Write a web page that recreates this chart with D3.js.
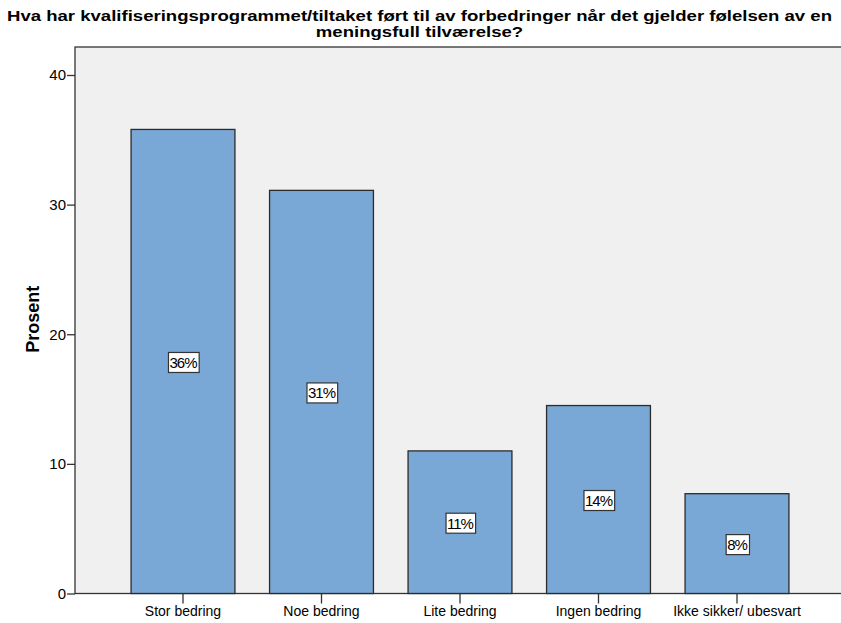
<!DOCTYPE html>
<html>
<head>
<meta charset="utf-8">
<script src="https://cdn.jsdelivr.net/npm/d3@7/dist/d3.min.js"></script>
<style>
  html, body { margin: 0; padding: 0; background: #ffffff; }
  svg { display: block; }
</style>
</head>
<body>
<svg id="chart" width="841" height="623"></svg>
<script>
// Answer categories and percentages
const categories = ["Stor bedring", "Noe bedring", "Lite bedring", "Ingen bedring", "Ikke sikker/ ubesvart"];
const values = [35.8, 31.1, 11.0, 14.5, 7.7];
const valueLabels = ["36%", "31%", "11%", "14%", "8%"];
const yTicks = [0, 10, 20, 30, 40];
const titleLines = [
  "Hva har kvalifiseringsprogrammet/tiltaket ført til av forbedringer når det gjelder følelsen av en",
  "meningsfull tilværelse?"
];
const yTitle = "Prosent";

const svg = d3.select("#chart");
const W = 841;
const FONT = "'Liberation Sans', Arial, sans-serif";

const plot = { left: 75, top: 47, right: 846, bottom: 593.5 };

const y = d3.scaleLinear().domain([0, 40]).range([plot.bottom, 75]);
const x = d3.scaleBand().domain(categories).range([113.75, 806.25])
  .paddingInner(0.25).paddingOuter(0.125);

// title, two centred lines spread to the full width of the first line
const titleWidth = 825;
const title = svg.append("g")
  .style("font-family", FONT)
  .style("font-weight", "bold")
  .style("font-size", "15.5px");
const tLines = title.selectAll("text")
  .data(titleLines)
  .join("text")
  .attr("x", W / 2 - 1)
  .attr("y", (d, i) => 21 + i * 16)
  .attr("text-anchor", "middle")
  .attr("fill", "#000")
  .text(d => d);
const k = titleWidth / tLines.nodes()[0].getComputedTextLength();
tLines.each(function () {
  const w = this.getComputedTextLength();
  d3.select(this).attr("textLength", w * k).attr("lengthAdjust", "spacingAndGlyphs");
});

// plot background
svg.append("rect")
  .attr("x", plot.left).attr("y", plot.top)
  .attr("width", plot.right - plot.left).attr("height", plot.bottom - plot.top)
  .attr("fill", "#f0f0f0")
  .attr("stroke", "#333").attr("stroke-width", 1.3);

// bars
svg.append("g").selectAll("rect")
  .data(categories)
  .join("rect")
  .attr("x", d => x(d))
  .attr("width", x.bandwidth())
  .attr("y", (d, i) => y(values[i]))
  .attr("height", (d, i) => y(0) - y(values[i]))
  .attr("fill", "#7aa8d6")
  .attr("stroke", "#2b2b2b")
  .attr("stroke-width", 1.3);

// value labels in the middle of each bar
const lab = svg.append("g").selectAll("g")
  .data(categories)
  .join("g")
  .attr("transform", (d, i) => `translate(${x(d) + x.bandwidth() / 2},${(y(values[i]) + y(0)) / 2 + 1})`);
lab.append("text")
  .attr("text-anchor", "middle")
  .attr("dy", "0.36em")
  .style("font-family", FONT)
  .style("font-size", "15px")
  .style("letter-spacing", "-1px")
  .attr("fill", "#000")
  .text((d, i) => valueLabels[i])
  .each(function () {
    const b = this.getBBox();
    d3.select(this.parentNode).insert("rect", "text")
      .attr("x", b.x - 1).attr("y", -10)
      .attr("width", b.width + 3).attr("height", 20)
      .attr("fill", "#fff")
      .attr("stroke", "#333").attr("stroke-width", 1.2);
  });

// y axis
const yAxis = svg.append("g")
  .attr("transform", `translate(${plot.left},0)`)
  .call(d3.axisLeft(y).tickValues(yTicks).tickSize(8).tickPadding(1).tickFormat(d3.format("d")));
yAxis.select(".domain").remove();
yAxis.selectAll("line").attr("stroke", "#333").attr("stroke-width", 1.3);
yAxis.selectAll("text")
  .style("font-family", FONT)
  .style("font-size", "15px")
  .attr("fill", "#000");

// x axis
const xAxis = svg.append("g")
  .attr("transform", `translate(0,${plot.bottom})`)
  .call(d3.axisBottom(x).tickSize(10).tickPadding(3));
xAxis.select(".domain").remove();
xAxis.selectAll("line").attr("stroke", "#333").attr("stroke-width", 1.3);
xAxis.selectAll("text")
  .style("font-family", FONT)
  .style("font-size", "14px")
  .attr("fill", "#000");

// y axis title
svg.append("text")
  .attr("transform", `translate(39,${(plot.top + plot.bottom) / 2 - 1}) rotate(-90)`)
  .attr("text-anchor", "middle")
  .style("font-family", FONT)
  .style("font-weight", "bold")
  .style("font-size", "18px")
  .attr("fill", "#000")
  .text(yTitle);
</script>
</body>
</html>
